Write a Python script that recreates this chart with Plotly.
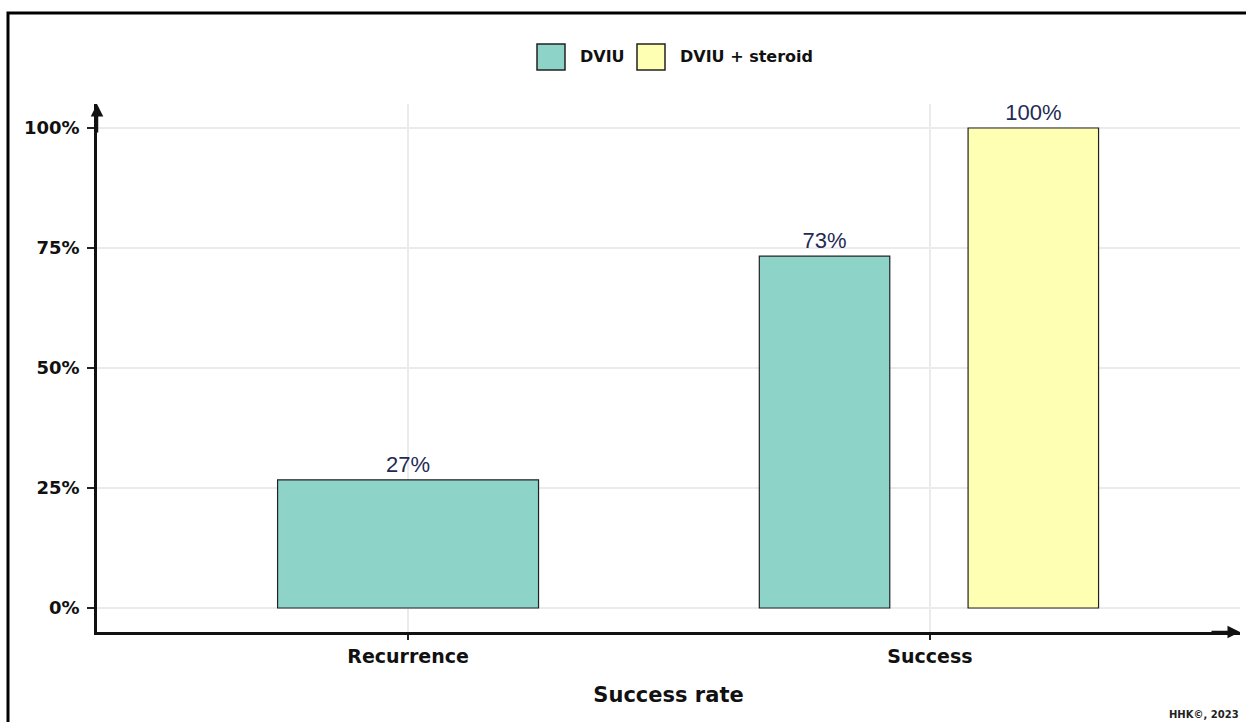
import plotly.graph_objects as go

categories = ["Recurrence", "Success"]
dviu = [0.267, 0.733]
dviu_steroid = [None, 1.0]
dviu_labels = ["27%", "73%"]
steroid_labels = ["", "100%"]
y_ticks = [0, 0.25, 0.5, 0.75, 1.0]
y_tick_text = ["0%", "25%", "50%", "75%", "100%"]
series_names = ["DVIU", "DVIU + steroid"]
series_colors = ["#8dd3c7", "#ffffb3"]

W, H = 1246, 722
ML, MR, MT, MB = 97, 6, 104, 90
PW, PH = W - ML - MR, H - MT - MB

def px_x(x):
    return (x - ML) / PW

def px_y(y):
    return (H - MB - y) / PH

label_font = dict(family="Liberation Sans, Arial, sans-serif", size=22, color="#1f2b55")
bold = "DejaVu Sans, sans-serif"

fig = go.Figure()
fig.add_trace(go.Bar(
    x=categories, y=dviu, name=series_names[0],
    width=[0.5, 0.25], offset=[-0.25, -0.327],
    marker=dict(color=series_colors[0], line=dict(color="#222222", width=1.2)),
    text=dviu_labels, textposition="outside", textfont=label_font,
    cliponaxis=False, showlegend=False,
))
fig.add_trace(go.Bar(
    x=categories, y=dviu_steroid, name=series_names[1],
    width=[0.25, 0.25], offset=[0.073, 0.073],
    marker=dict(color=series_colors[1], line=dict(color="#222222", width=1.2)),
    text=steroid_labels, textposition="outside", textfont=label_font,
    cliponaxis=False, showlegend=False,
))

fig.update_layout(
    width=W, height=H,
    margin=dict(l=ML, r=MR, t=MT, b=MB),
    paper_bgcolor="white", plot_bgcolor="white",
    barmode="overlay",
    font=dict(family=bold, color="#111111"),
    showlegend=False,
)

fig.update_xaxes(
    type="category", range=[-0.596, 1.594],
    showline=True, linecolor="#111111", linewidth=2.5,
    ticks="outside", ticklen=5, tickwidth=1.5, tickcolor="#222222",
    showgrid=True, gridcolor="#ebebeb", gridwidth=1.5,
    tickfont=dict(family=bold, size=19, color="#111111", weight="bold"),
    title=dict(text="Success rate", font=dict(family=bold, size=21, color="#111111", weight="bold"), standoff=22),
    zeroline=False, fixedrange=True,
)
fig.update_yaxes(
    range=[-0.05, 1.05],
    tickvals=y_ticks, ticktext=y_tick_text,
    showline=True, linecolor="#111111", linewidth=2.5,
    ticks="outside", ticklen=7, tickwidth=1.5, tickcolor="#222222",
    ticklabelstandoff=4,
    showgrid=True, gridcolor="#ebebeb", gridwidth=1.5,
    tickfont=dict(family=bold, size=18, color="#111111", weight="bold"),
    zeroline=False, fixedrange=True,
)

# legend (drawn as swatches + labels)
swatch_x = [(537, 565), (637, 665)]
text_x = [578, 678]
for (sx0, sx1), tx, name, col in zip(swatch_x, text_x, series_names, series_colors):
    fig.add_shape(type="rect", xref="paper", yref="paper",
                  x0=px_x(sx0), x1=px_x(sx1), y0=px_y(70), y1=px_y(44),
                  line=dict(color="#222222", width=1.5), fillcolor=col)
    fig.add_annotation(xref="paper", yref="paper", x=px_x(tx), y=px_y(57),
                       xanchor="left", yanchor="middle", showarrow=False,
                       text=name, font=dict(family=bold, size=16, color="#111111", weight="bold"))

# axis arrows
fig.add_annotation(xref="paper", yref="paper", x=1.0, y=0, ax=-30, ay=0,
                   axref="pixel", ayref="pixel", text="", showarrow=True,
                   arrowhead=2, arrowsize=1, arrowwidth=2.5, arrowcolor="#111111")
fig.add_annotation(xref="paper", yref="paper", x=0, y=1.0, ax=0, ay=30,
                   axref="pixel", ayref="pixel", text="", showarrow=True,
                   arrowhead=2, arrowsize=1, arrowwidth=2.5, arrowcolor="#111111")

# caption
fig.add_annotation(xref="paper", yref="paper", x=px_x(1241), y=px_y(714),
                   xanchor="right", yanchor="middle", showarrow=False,
                   text="HHK©, 2023", font=dict(family=bold, size=10, color="#222222", weight="bold"))

# outer border
fig.add_shape(type="rect", xref="paper", yref="paper",
              x0=px_x(8), x1=px_x(1250), y0=px_y(730), y1=px_y(13),
              line=dict(color="black", width=3), fillcolor="rgba(0,0,0,0)", layer="above")

fig.write_html("out.html")
